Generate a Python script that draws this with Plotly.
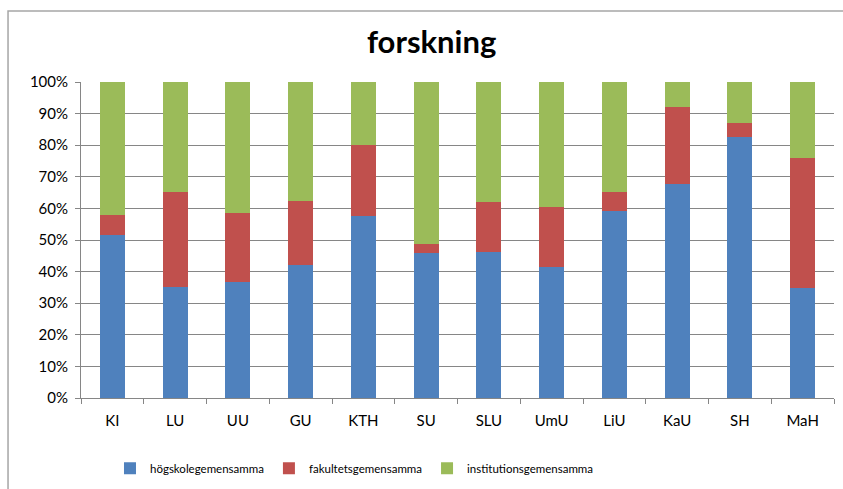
import plotly.graph_objects as go

categories = ["KI", "LU", "UU", "GU", "KTH", "SU", "SLU", "UmU", "LiU", "KaU", "SH", "MaH"]
hogskole = [51.5, 35.1, 36.8, 42.1, 57.6, 45.8, 46.2, 41.6, 59.2, 67.7, 82.6, 34.8]
fakultet = [6.3, 30.0, 21.8, 20.1, 22.6, 2.8, 15.7, 19.0, 5.9, 24.3, 4.4, 41.3]
institution = [42.2, 34.9, 41.4, 37.8, 19.8, 51.4, 38.1, 39.4, 34.9, 8.0, 13.0, 23.9]
series_names = ["högskolegemensamma", "fakultetsgemensamma", "institutionsgemensamma"]
colors = ["#4f81bd", "#c0504d", "#9bbb59"]

FONT = "Lato"

fig = go.Figure()
for name, vals, col in zip(series_names, [hogskole, fakultet, institution], colors):
    fig.add_trace(go.Bar(
        x=categories, y=vals, name=name,
        marker=dict(color=col, line=dict(width=0)),
    ))

fig.update_layout(
    barmode="stack",
    bargap=0.6,
    width=843, height=489,
    margin=dict(l=81, r=9, t=82, b=91, autoexpand=False),
    paper_bgcolor="white", plot_bgcolor="white",
    font=dict(family=FONT, size=15, color="black"),
    title=dict(text="<b>forskning</b>", x=0.512, xanchor="center", y=0.914, yanchor="middle",
               font=dict(family=FONT, size=31, color="black")),
    showlegend=True,
    legend=dict(orientation="h", x=0.0385, xanchor="left", y=-0.222, yanchor="middle",
                font=dict(family=FONT, size=11.5), itemwidth=30, traceorder="normal"),
    shapes=[dict(type="rect", xref="paper", yref="paper",
                 x0=-0.0969, x1=1.3, y0=-0.6, y1=1.2247,
                 line=dict(color="#a6a6a6", width=1.5), layer="below")],
)
fig.update_xaxes(
    showline=True, linecolor="#868686", linewidth=1,
    ticks="outside", tickson="boundaries", ticklen=5, tickcolor="#868686",
    showgrid=False, tickfont=dict(size=15), ticklabelstandoff=9,
)
fig.update_yaxes(
    range=[0, 100], dtick=10, ticksuffix="%",
    showline=True, linecolor="#868686", linewidth=1,
    ticks="outside", ticklen=5, tickcolor="#868686",
    showgrid=True, gridcolor="#868686", gridwidth=1,
    tickfont=dict(size=15), zeroline=False, ticklabelstandoff=4,
)

fig.write_html("out.html", config={"displayModeBar": False},
               post_script="document.body.style.margin='0';document.body.style.overflow='hidden';")
